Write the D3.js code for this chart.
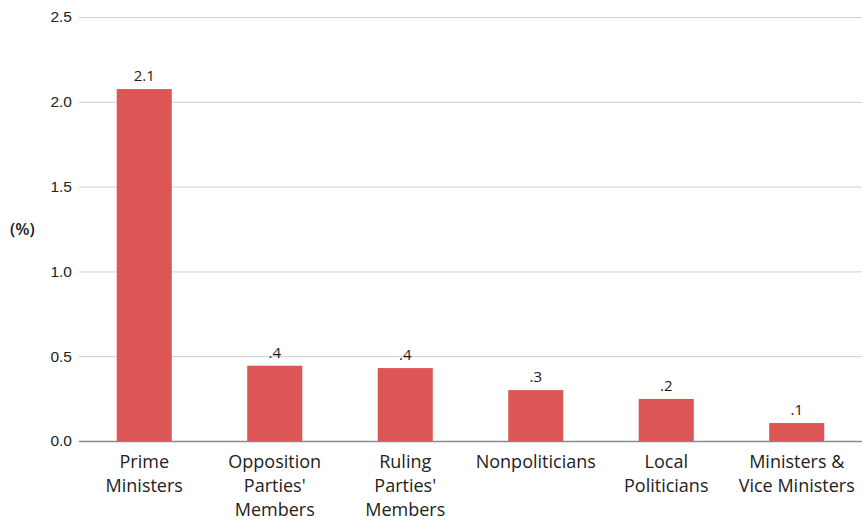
<!DOCTYPE html>
<html>
<head>
<meta charset="utf-8">
<script src="https://cdn.jsdelivr.net/npm/d3@7"></script>
<style>
  html, body { margin: 0; padding: 0; background: #fff; }
  svg { display: block; font-family: "Open Sans", "Noto Sans", sans-serif; }
</style>
</head>
<body>
<svg id="chart" width="862" height="522"></svg>
<script>
// Share of mentions by type of politician (%)
const categories = [
  ["Prime", "Ministers"],
  ["Opposition", "Parties'", "Members"],
  ["Ruling", "Parties'", "Members"],
  ["Nonpoliticians"],
  ["Local", "Politicians"],
  ["Ministers &", "Vice Ministers"]
];
const values = [2.075, 0.444, 0.43, 0.30, 0.248, 0.106];
const valueLabels = ["2.1", ".4", ".4", ".3", ".2", ".1"];
const yTicks = [0, 0.5, 1.0, 1.5, 2.0, 2.5];
const yUnit = "(%)";

const svg = d3.select("#chart");
const margin = { top: 17, right: 0, bottom: 81, left: 79 };
const width = 862, height = 522;

const x = d3.scaleBand()
  .domain(d3.range(categories.length))
  .range([margin.left, width - margin.right])
  .paddingInner(0.578)
  .paddingOuter(0.289);

const y = d3.scaleLinear()
  .domain([0, 2.5])
  .range([height - margin.bottom, margin.top]);

// gridlines + tick labels
const yAxis = d3.axisLeft(y)
  .tickValues(yTicks)
  .tickFormat(d3.format(".1f"))
  .tickSize(-(width - margin.left - margin.right))
  .tickPadding(8);

const gy = svg.append("g")
  .attr("transform", `translate(${margin.left},0)`)
  .call(yAxis);
gy.select(".domain").remove();
gy.selectAll(".tick line")
  .attr("stroke", d => d === 0 ? "#8a8a8a" : "#cfcfcf")
  .attr("stroke-width", d => d === 0 ? 1.5 : 1);
gy.selectAll(".tick text")
  .attr("fill", "#222")
  .style("font-size", "15.5px")
  .attr("x", -7);

// unit label
svg.append("text")
  .attr("x", 10)
  .attr("y", 235)
  .attr("fill", "#222")
  .style("font-size", "16.5px")
  .style("font-weight", "600")
  .text(yUnit);

// bars
svg.append("g")
  .selectAll("rect")
  .data(values)
  .join("rect")
  .attr("x", (d, i) => x(i))
  .attr("y", d => y(d))
  .attr("width", x.bandwidth())
  .attr("height", d => y(0) - y(d))
  .attr("fill", "#DB5654");

// value labels
svg.append("g")
  .selectAll("text")
  .data(values)
  .join("text")
  .attr("x", (d, i) => x(i) + x.bandwidth() / 2)
  .attr("y", d => y(d) - 8)
  .attr("text-anchor", "middle")
  .attr("fill", "#1a1a1a")
  .style("font-size", "15px")
  .style("font-weight", "500")
  .text((d, i) => valueLabels[i]);

// category labels
const cat = svg.append("g")
  .selectAll("text")
  .data(categories)
  .join("text")
  .attr("x", (d, i) => x(i) + x.bandwidth() / 2)
  .attr("y", y(0) + 27)
  .attr("text-anchor", "middle")
  .attr("fill", "#222")
  .style("font-size", "18px");
cat.selectAll("tspan")
  .data((d, i) => d.map(line => ({ line, i })))
  .join("tspan")
  .attr("x", d => x(d.i) + x.bandwidth() / 2)
  .attr("dy", (d, j) => j === 0 ? 0 : 24)
  .text(d => d.line);
</script>
</body>
</html>
